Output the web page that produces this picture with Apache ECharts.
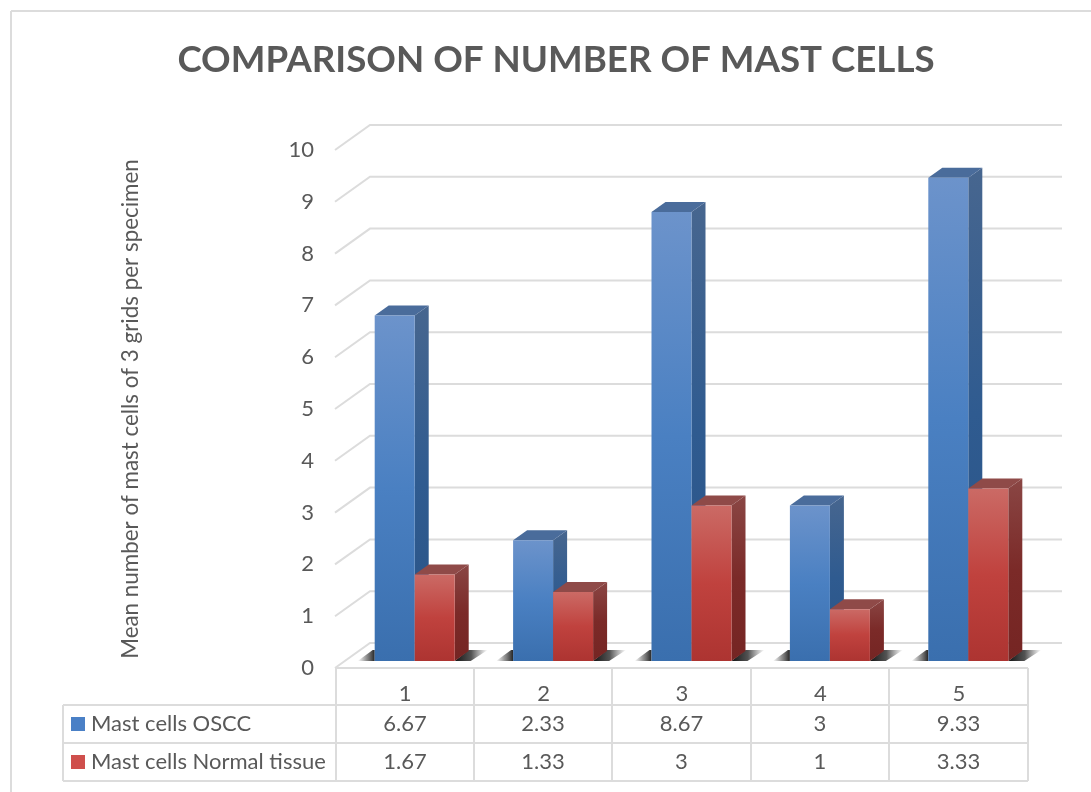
<!DOCTYPE html>
<html>
<head>
<meta charset="utf-8">
<style>html,body{margin:0;padding:0;background:#fff}#c{width:1091px;height:792px}</style>
<script src="https://cdn.jsdelivr.net/npm/echarts@6/dist/echarts.min.js"></script>
</head>
<body>
<div id="c"></div>
<script>
const categories = ['1', '2', '3', '4', '5'];
const osccValues = [6.67, 2.33, 8.67, 3, 9.33];
const normalValues = [1.67, 1.33, 3, 1, 3.33];
const yTicks = [0, 1, 2, 3, 4, 5, 6, 7, 8, 9, 10];
const osccName = 'Mast cells OSCC';
const normalName = 'Mast cells Normal tissue';
const chartTitle = 'COMPARISON OF NUMBER OF MAST CELLS';
const yTitle = 'Mean number of mast cells of 3 grids per specimen';

const FONT = 'Lato, "Open Sans", sans-serif';
const TXT = '#595959', LINE = '#dcdcdc';
const grad = (stops) => ({type:'linear',x:0,y:0,x2:0,y2:1,colorStops:stops.map((c,i)=>({offset:i/(stops.length-1),color:c}))});
const hgrad = (stops) => ({type:'linear',x:0,y:0,x2:1,y2:0,colorStops:stops.map((c,i)=>({offset:i/(stops.length-1),color:c}))});
const BLUE = {front:grad(['#6c93cb','#4a80c2','#3a6fae']), side:grad(['#47668f','#2f5b90','#2a5386']), top:'#4a6c9b'};
const RED  = {front:grad(['#cb6a65','#c0423e','#ad3431']), side:grad(['#8a4644','#7b2a28','#752523']), top:'#8f4a48'};

// bars stand on a plane set back from the front plane of the axis
const DX = 9.5, DY = -7, BW = 40, SX = 14, SY = -10, BACKX = 34, BACKY = -25;

function barRender(pal, dir){
  return function(params, api){
    const p = api.coord([api.value(0), api.value(1)]);
    const b = api.coord([api.value(0), 0]);
    const x0 = p[0] + DX + (dir < 0 ? -BW : 0), x1 = x0 + BW, yt = p[1] + DY, yb = b[1] + DY;
    return {type:'group', children:[
      {type:'polygon', shape:{points:[[x1,yt],[x1+SX,yt+SY],[x1+SX,yb+SY],[x1,yb]]}, style:{fill:pal.side}},
      {type:'polygon', shape:{points:[[x0,yt],[x0+SX,yt+SY],[x1+SX,yt+SY],[x1,yt]]}, style:{fill:pal.top}},
      {type:'rect', shape:{x:x0,y:yt,width:BW,height:yb-yt}, style:{fill:pal.front}}
    ]};
  };
}
function shadowRender(params, api){
  const b = api.coord([api.value(0), 0]);
  const c = b[0] + DX, y = b[1] + DY;
  return {type:'group', children:[
    {type:'polygon', shape:{points:[[c-BW-17,y],[c-BW,y],[c-BW,y-11],[c-BW-2,y-11]]}, style:{fill:hgrad(['rgba(70,70,70,0)','rgba(60,60,60,0.55)','rgba(25,25,25,0.95)'])}},
    {type:'polygon', shape:{points:[[c+BW,y],[c+BW+14,y-11],[c+BW+33,y-11],[c+BW+16,y]]}, style:{fill:hgrad(['rgba(20,20,20,1)','rgba(40,40,40,0.8)','rgba(70,70,70,0)'])}}
  ]};
}
function wallRender(params, api){
  const p = api.coord([0, api.value(1)]);
  const half = api.size([1,0])[0] / 2;
  const L = p[0] - half, R = L + half * 2 * categories.length, y = p[1];
  return {type:'polyline', shape:{points:[[L-1,y],[L+BACKX,y+BACKY],[R+BACKX,y+BACKY]]}, style:{fill:null,stroke:LINE,lineWidth:2}};
}

// table
const tableX = [336, 474, 612, 751, 889, 1028], tableY = [668, 705, 743, 781], tableLeft = 63;
const g = [];
const ln = (x1,y1,x2,y2) => g.push({type:'line',silent:true,z:1,shape:{x1,y1,x2,y2},style:{stroke:LINE,lineWidth:2}});
ln(11,11,1091,11); ln(11,11,11,792);
ln(336,668,1028,668);
tableY.slice(1).forEach(y => ln(tableLeft,y,1028,y));
tableX.forEach(x => ln(x,668,x,781));
ln(tableLeft,705,tableLeft,781);
const txt = (text,x,y,align) => g.push({type:'text',silent:true,z:5,x,y,style:{text,x:0,y:0,fill:TXT,font:'22px '+FONT,textAlign:align,textVerticalAlign:'middle'}});
[[osccName,osccValues,724,'#4a80c6'],[normalName,normalValues,762,'#cf4f4c']].forEach(([name,vals,y,col]) => {
  g.push({type:'rect',silent:true,z:5,shape:{x:71,y:y-7,width:14,height:14},style:{fill:col}});
  txt(name,91,y,'left');
  vals.forEach((v,i) => txt(String(v),(tableX[i]+tableX[i+1])/2,y,'center'));
});

const chart = echarts.init(document.getElementById('c'));
chart.setOption({
  animation:false,
  backgroundColor:'#fff',
  title:{text:chartTitle,left:551,top:37,textAlign:'center',textStyle:{color:TXT,fontFamily:FONT,fontWeight:'bold',fontSize:36.7}},
  grid:{left:336,top:150,width:692,height:518,containLabel:false},
  xAxis:{type:'category',data:categories,axisLine:{show:false},axisTick:{show:false},splitLine:{show:false},
    axisLabel:{color:TXT,fontFamily:FONT,fontSize:22,margin:15}},
  yAxis:{type:'value',min:0,max:10,interval:1,axisLine:{show:false},axisTick:{show:false},splitLine:{show:false},
    axisLabel:{color:TXT,fontFamily:FONT,fontSize:22,margin:22,padding:[6,0,0,0]},
    name:yTitle,nameLocation:'middle',nameRotate:90,nameGap:194,nameTextStyle:{color:TXT,fontFamily:FONT,fontSize:22.4}},
  graphic:{elements:g},
  series:[
    {type:'custom',name:'walls',clip:false,silent:true,z:2,renderItem:wallRender,encode:{x:0,y:1},data:yTicks.map(v=>[0,v])},
    {type:'custom',name:'shadow',clip:false,silent:true,z:3,renderItem:shadowRender,encode:{x:0,y:1},data:categories.map((c,i)=>[i,0])},
    {type:'custom',name:osccName,clip:false,z:4,renderItem:barRender(BLUE,-1),encode:{x:0,y:1},data:osccValues.map((v,i)=>[i,v])},
    {type:'custom',name:normalName,clip:false,z:5,renderItem:barRender(RED,1),encode:{x:0,y:1},data:normalValues.map((v,i)=>[i,v])}
  ]
});
</script>
</body>
</html>
